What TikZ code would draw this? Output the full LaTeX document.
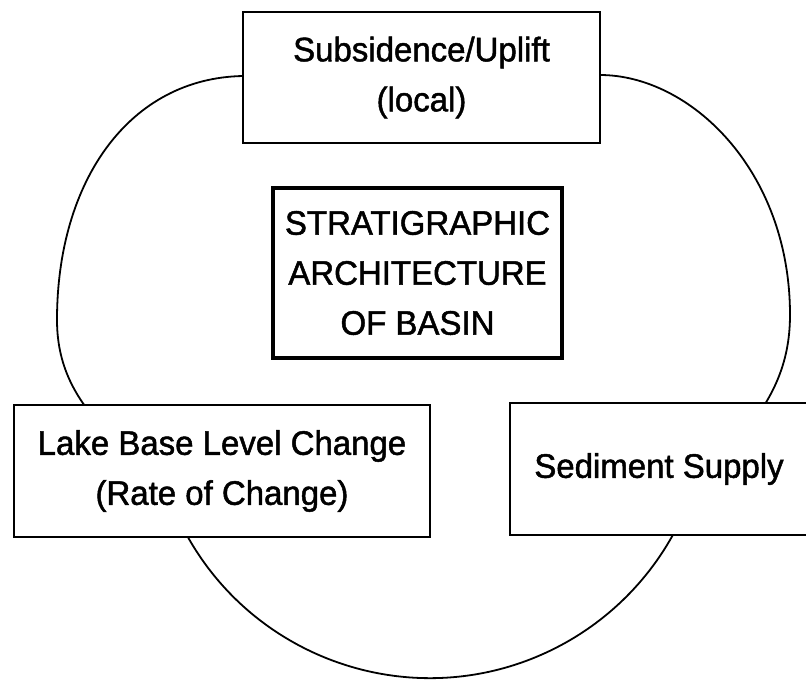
\documentclass[tikz,border=0pt]{standalone}
\usepackage{fontspec}
\setmainfont{Liberation Sans}[FakeBold=1.4,FakeStretch=0.97]
\begin{document}
\begin{tikzpicture}[x=1pt,y=-1pt,
  box/.style={draw, fill=white, line width=1.8pt, align=center, inner sep=0pt,
              font=\fontsize{34}{50}\selectfont},
  mainbox/.style={box, line width=3.6pt},
  loop/.style={line width=1.8pt}]
\useasboundingbox (0,0) rectangle (806,681);
\clip (0,0) rectangle (806,681);
\coordinate (c1) at (243,76);
\coordinate (c2) at (57,320);
\coordinate (j1) at (179,520);
\coordinate (c4) at (790,315);
\coordinate (c5) at (600,75);
\draw[loop] (c1) .. controls (130,78) and (57,180) .. (c2)
  .. controls (57,420) and (144.5,447.8) .. (j1)
  arc[start angle=154.45, end angle=25.55, radius=278]
  .. controls (715.5,447.8) and (790,415) .. (c4)
  .. controls (790,170) and (690,75) .. (c5);
\node[box, minimum width=357pt, minimum height=131pt] (top) at (421.5,77.5)
  {Subsidence/Uplift\\(local)};
\node[mainbox, minimum width=289pt, minimum height=170pt] (arch) at (417.5,273)
  {STRATIGRAPHIC\\ARCHITECTURE\\OF BASIN};
\node[box, minimum width=416pt, minimum height=132pt] (lake) at (222,471)
  {Lake Base Level Change\\(Rate of Change)};
\node[box, minimum width=298pt, minimum height=132pt] (sed) at (659,469)
  {Sediment Supply};
\end{tikzpicture}
\end{document}
